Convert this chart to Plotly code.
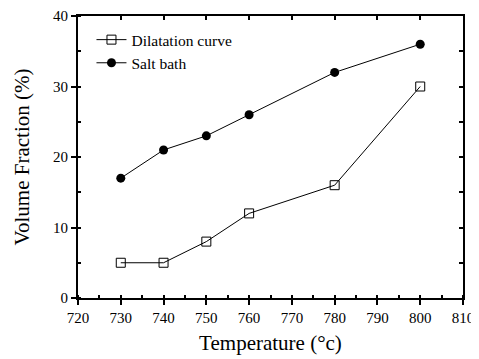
import plotly.graph_objects as go

temps = [730, 740, 750, 760, 780, 800]
dilatation = [5, 5, 8, 12, 16, 30]
salt_bath = [17, 21, 23, 26, 32, 36]
x_ticks = [720, 730, 740, 750, 760, 770, 780, 790, 800, 810]
y_ticks = [0, 10, 20, 30, 40]
y_minor_ticks = [0, 5, 10, 15, 20, 25, 30, 35, 40]

font = "Liberation Serif"
fig = go.Figure()
fig.add_trace(go.Scatter(x=temps, y=dilatation, mode="lines+markers", name="Dilatation curve",
                         line=dict(color="black", width=1),
                         marker=dict(symbol="square-open", size=9, color="black", line=dict(width=1))))
fig.add_trace(go.Scatter(x=temps, y=salt_bath, mode="lines+markers", name="Salt bath",
                         line=dict(color="black", width=1),
                         marker=dict(symbol="circle", size=9, color="black")))

common = dict(showgrid=False, zeroline=False, linecolor="black", linewidth=2,
              tickcolor="black", tickwidth=1.5, automargin=False)
fig.update_layout(
    width=471, height=351, plot_bgcolor="white", paper_bgcolor="white",
    margin=dict(l=70, r=16, t=8, b=61),
    font=dict(family=font, color="black", size=15),
    showlegend=True,
    legend=dict(x=0.035, y=0.975, xanchor="left", yanchor="top", bgcolor="rgba(0,0,0,0)",
                font=dict(family=font, size=15.5), tracegroupgap=0, itemwidth=30),
    xaxis=dict(range=[720, 810], tickvals=x_ticks, ticks="outside", ticklen=5,
               tickfont=dict(family=font, size=15),
               minor=dict(dtick=5, tick0=720, ticks="inside", ticklen=3, tickcolor="black"),
               title=dict(text="Temperature (°c)", font=dict(family=font, size=21), standoff=10), **common),
    yaxis=dict(range=[0, 40], tickvals=y_ticks, ticks="outside", ticklen=5,
               tickfont=dict(family=font, size=15),
               minor=dict(dtick=5, tick0=0, ticks="inside", ticklen=3, tickcolor="black"),
               title=dict(text="Volume Fraction (%)", font=dict(family=font, size=21), standoff=18), **common),
    xaxis2=dict(range=[720, 810], overlaying="x", side="top", anchor="y", tickvals=x_ticks,
                ticks="inside", ticklen=4, showticklabels=False, **common),
    yaxis2=dict(range=[0, 40], overlaying="y", side="right", anchor="x", tickvals=y_minor_ticks,
                ticks="inside", ticklen=4, showticklabels=False, **common),
)
fig.add_trace(go.Scatter(x=[None], y=[None], xaxis="x2", yaxis="y2", showlegend=False, hoverinfo="skip"))
fig.write_html("out.html")
